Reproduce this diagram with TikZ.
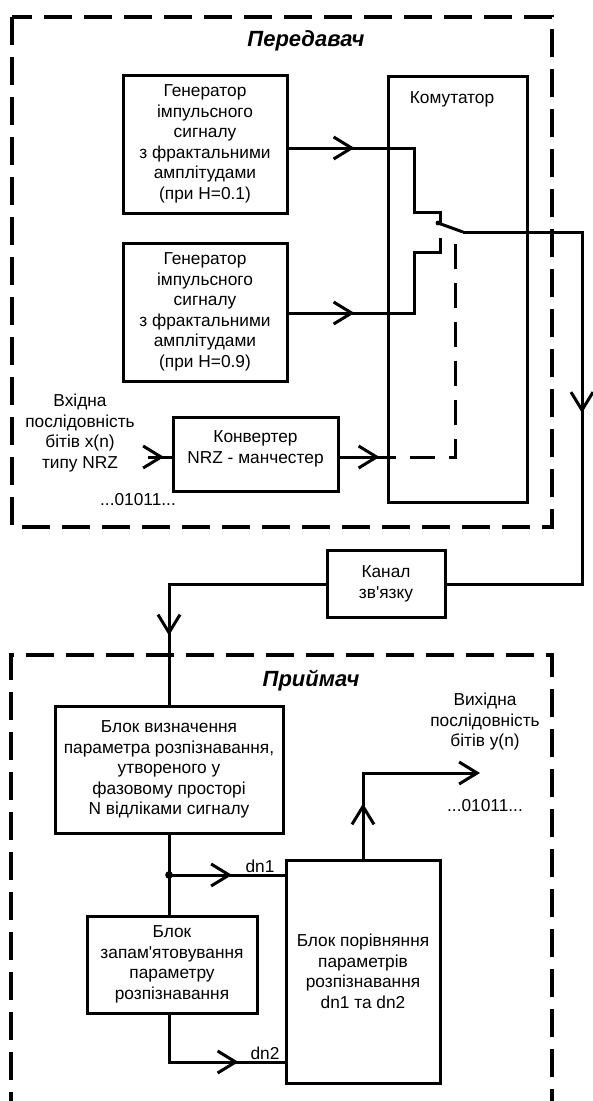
\documentclass[tikz,border=0pt]{standalone}
\usepackage{fontspec}
\setmainfont{Liberation Sans}
\usetikzlibrary{arrows.meta,decorations.markings}
\begin{document}
\begin{tikzpicture}[x=1pt,y=-1pt,
  every node/.style={font=\fontsize{17.3}{20.5}\selectfont},
  blk/.style={draw, line width=3pt, inner sep=0pt, align=center},
  wire/.style={line width=3pt},
  dsh/.style={line width=3.2pt, dash pattern=on 28pt off 12pt},
  ttl/.style={font=\fontsize{22}{26}\selectfont\bfseries\itshape},
  lbl/.style={align=center},
  barb/.tip={Straight Barb[length=18pt,width=22pt,line width=3pt]},
  midarr/.style={postaction={decorate,decoration={markings,mark=at position #1 with {\arrow{barb}}}}}
]
\useasboundingbox (0,0) rectangle (593,1101);

% transmitter frame
\draw[dsh] (12,17) rectangle (552,527);
\node[ttl] (t1) at (306,41) {Передавач};

\node[blk, minimum width=164pt, minimum height=138pt] (g1) at (205,144)
  {Генератор\\імпульсного\\сигналу\\з фрактальними\\амплітудами\\(при H=0.1)};
\node[blk, minimum width=164pt, minimum height=138pt] (g2) at (205,312)
  {Генератор\\імпульсного\\сигналу\\з фрактальними\\амплітудами\\(при H=0.9)};
\node[blk, minimum width=165pt, minimum height=74pt] (conv) at (255.5,454) {};
\node[lbl] (convt) at (255.5,449) {Конвертер\\NRZ - манчестер};
\node[blk, minimum width=139pt, minimum height=426pt] (kom) at (457.5,289) {};
\node (komt) at (452,99) {Комутатор};

\node[lbl] (inp) at (80,433) {Вхідна\\послідовність\\бітів x(n)\\типу NRZ};
\node (inbits) at (138,500) {...01011...};
\coordinate (inst) at (148,457);

% switch
\coordinate (c1) at (440,223);
\coordinate (c2) at (440,238);
\coordinate (piv) at (438,223);
\coordinate (sw) at (463,232);
\coordinate (outc) at (582,232);

\draw[wire, midarr=66pt] ([yshift=-4pt]g1.east) -- (414,148) -- (414,212) -- (440,212) -- (c1);
\draw[wire, midarr=66pt] ([yshift=-1pt]g2.east) -- (414,313) -- (414,252) -- (440,252) -- (c2);
\draw[wire] (piv) -- (sw);
\fill (piv) circle (2.4);
\draw[wire, midarr=16pt] (inst) -- ([yshift=-3pt]conv.west);
\draw[wire, midarr=40pt] ([yshift=-3pt]conv.east) -- (kom.west |- 0,457);
\draw[wire, dash pattern=on 25pt off 14pt, dash phase=16pt] (kom.west |- 0,457) -- (455,457) -- (455,233);

% channel
\node[blk, minimum width=118pt, minimum height=67pt] (kan) at (386,584) {Канал\\зв\textquotesingle язку};
\draw[wire, midarr=300pt] (sw) -- (outc) |- (kan.east);

% receiver frame
\draw[dsh] (11,1120) -- (11,655) -- (552,655) -- (552,1120);
\node[ttl] (t2) at (311,681) {Приймач};

\node[blk, minimum width=228pt, minimum height=127pt] (b1) at (169,769.5)
  {Блок визначення\\параметра розпізнавання,\\утвореного у\\фазовому просторі\\N відліками сигналу};
\node[blk, minimum width=170pt, minimum height=97pt] (mem) at (172,964.5)
  {Блок\\запам\textquotesingle ятовування\\параметру\\розпізнавання};
\node[blk, minimum width=154pt, minimum height=223pt] (cmp) at (363,971.5)
  {Блок порівняння\\параметрів\\розпізнавання\\dn1 та dn2};

\draw[wire, midarr=208pt] (kan.west) -| (b1.north);

\coordinate (jn) at (169,875);
\coordinate (m2) at (169,1062);
\draw[wire] (b1.south) -- (jn) -- (jn |- mem.north);
\fill (jn) circle (3.8);
\draw[wire, midarr=63pt] (jn) -- (cmp.west |- jn);
\node (dn1) at (260,866) {dn1};
\draw[wire, midarr=117pt] (jn |- mem.south) -- (m2) -- (cmp.west |- m2);
\node (dn2) at (265,1053) {dn2};

\coordinate (oend) at (480,773);
\draw[wire, midarr=55pt, -barb] (cmp.north) |- (oend);
\node[lbl] (outt) at (485,722) {Вихідна\\послідовність\\бітів y(n)};
\node (outbits) at (485,806) {...01011...};
\end{tikzpicture}
\end{document}
